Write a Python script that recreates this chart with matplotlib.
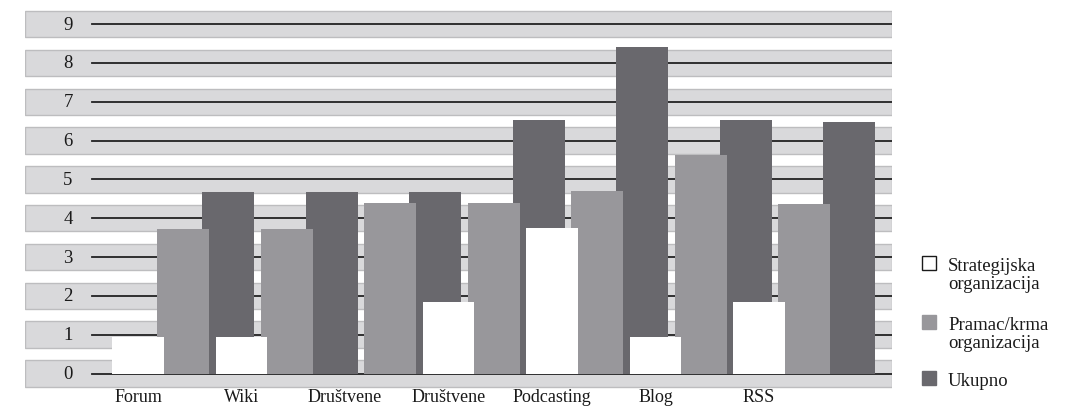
import matplotlib.pyplot as plt
import numpy as np
from matplotlib.patches import Rectangle

plt.rcParams['font.family'] = ['Liberation Serif', 'DejaVu Serif']

categories = ['Forum', 'Wiki', 'Društvene', 'Društvene', 'Podcasting', 'Blog', 'RSS']
strateg = [0.94, 0.94, 0.0, 1.85, 3.74, 0.94, 1.85]
pramac = [3.72, 3.72, 4.40, 4.40, 4.70, 5.63, 4.37]
ukupno = [4.68, 4.68, 4.68, 6.53, 8.41, 6.53, 6.48]
series = ['Strategijska\norganizacija', 'Pramac/krma\norganizacija', 'Ukupno']
colors = ['white', '#98979b', '#69686d']
yticks = list(range(10))

W, H = 1075, 410
fig = plt.figure(figsize=(W / 100, H / 100), dpi=100)
ax = fig.add_axes([25 / W, 0.55 / H, 867 / W, 407.7 / H])
ax.set_xlim(-1.527, 6.85)
ax.set_ylim(-0.9, 9.6)
ax.axis('off')

# grey band behind every gridline, with the label on the left
for k in yticks:
    ax.axhspan(k - 0.34, k + 0.34, facecolor='#d9d9db', edgecolor='#bdbdbf', lw=1, zorder=1)
    ax.axhline(k, xmin=0.0773, xmax=1, color='#222222', lw=1.3, zorder=2)
    ax.text(0.0496, k, str(k), transform=ax.get_yaxis_transform(),
            ha='center', va='center', fontsize=13.5, color='#1a1a1a')

x = np.arange(len(categories))
shift = 0.435
width = 0.502
ax.bar(x + shift, ukupno, width, color=colors[2], zorder=3)
ax.bar(x, pramac, width, color=colors[1], zorder=4)
ax.bar(x - shift, strateg, width, color=colors[0], zorder=5)

for xi, name in zip(x - shift, categories):
    ax.text(xi, -0.6, name, ha='center', va='center', fontsize=13,
            color='#1a1a1a', clip_on=False)

# legend drawn by hand so the swatch sits at the first text line
legend_top = [257, 316, 372]
for name, col, top in zip(series, colors, legend_top):
    fig.add_artist(Rectangle((922 / W, (H - top - 14) / H), 14 / W, 14 / H,
                             transform=fig.transFigure, facecolor=col,
                             edgecolor='#1a1a1a' if col == 'white' else col, lw=1))
    fig.text(948 / W, (H - top - 1) / H, name, ha='left', va='top',
             fontsize=13.5, linespacing=1.05, color='#1a1a1a')

fig.savefig('out.png', dpi=100)
